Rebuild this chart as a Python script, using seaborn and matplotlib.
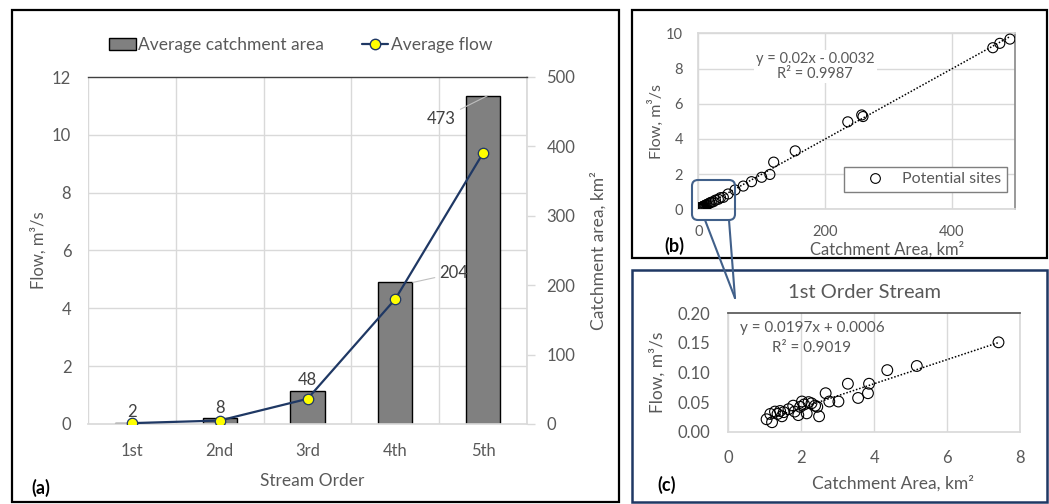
import numpy as np
import matplotlib
matplotlib.use("Agg")
import matplotlib.pyplot as plt
import seaborn as sns
from matplotlib.patches import Rectangle, FancyBboxPatch, Patch
from matplotlib.lines import Line2D
from matplotlib.ticker import FixedLocator, FormatStrFormatter
from matplotlib.transforms import IdentityTransform

# ---------------- data ----------------
stream_orders = ["1st", "2nd", "3rd", "4th", "5th"]
avg_area = [2, 8, 48, 204, 473]            # km2
avg_flow = [0.03, 0.12, 0.87, 4.32, 9.37]  # m3/s

# 1st-order stream sites (panel c)
first_area = [1.05, 1.15, 1.20, 1.28, 1.35, 1.42, 1.47, 1.52, 1.65, 1.78, 1.82,
              1.92, 1.97, 2.02, 2.08, 2.15, 2.20, 2.28, 2.38, 2.44, 2.49, 2.67,
              2.77, 3.02, 3.28, 3.56, 3.83, 3.86, 4.36, 5.17, 7.41]
first_flow = [0.021, 0.030, 0.016, 0.034, 0.030, 0.035, 0.026, 0.033, 0.038, 0.044,
              0.034, 0.028, 0.042, 0.051, 0.046, 0.031, 0.050, 0.048, 0.044, 0.042,
              0.026, 0.065, 0.051, 0.051, 0.081, 0.057, 0.065, 0.081, 0.104, 0.111,
              0.151]

# other potential sites (higher orders, panel b)
other_area = [2.8, 3.5, 4.2, 5.0, 5.8, 6.6, 7.5, 8.3, 9.5, 10.8, 12.0, 13.5, 15.8,
              18.0, 20.5, 23.7, 27.0, 31.6, 35.0, 39.5, 47, 58, 71, 84, 100, 113,
              119, 153, 236, 258, 260, 465, 476, 492]
other_flow = [0.05, 0.07, 0.09, 0.10, 0.12, 0.13, 0.15, 0.17, 0.19, 0.22, 0.24,
              0.27, 0.31, 0.36, 0.40, 0.43, 0.52, 0.57, 0.66, 0.68, 0.87, 1.10,
              1.32, 1.57, 1.82, 1.98, 2.68, 3.32, 4.97, 5.36, 5.27, 9.18, 9.43, 9.67]

eq_all = ["y = 0.02x - 0.0032", "R\u00b2 = 0.9987"]
eq_first = ["y = 0.0197x + 0.0006", "R\u00b2 = 0.9019"]

all_area = first_area + other_area
all_flow = first_flow + other_flow

# ---------------- style ----------------
sns.set_theme(style="white")
plt.rcParams["font.family"] = ["Lato", "DejaVu Sans"]
TXT = "#595959"
GRID = "#D9D9D9"
NAVY = "#1F3864"

W, H = 1049, 504
fig = plt.figure(figsize=(W / 100, H / 100), dpi=100)


def rect(l, t, r, b):
    return [l / W, 1 - b / H, (r - l) / W, (b - t) / H]


# ================= panel (a) =================
ax_area = fig.add_axes(rect(88, 77, 527, 424))
ax_flow = fig.add_axes(rect(88, 77, 527, 424))
ax_flow.set_zorder(ax_area.get_zorder() + 1)
ax_flow.patch.set_visible(False)

sns.barplot(x=stream_orders, y=avg_area, ax=ax_area, color="#808080",
            edgecolor="black", linewidth=1.0, width=0.39, saturation=1)
sns.pointplot(x=stream_orders, y=avg_flow, ax=ax_flow, color=NAVY,
              errorbar=None, markers="o", linestyles="-",
              linewidth=1.6, markersize=7.5, markeredgewidth=0.9,
              markerfacecolor="#FFFF00", markeredgecolor=NAVY)
for ln in ax_flow.lines:
    ln.set_markerfacecolor("#FFFF00")
    ln.set_markeredgecolor(NAVY)

for a in (ax_area, ax_flow):
    a.set_xlim(-0.5, 4.5)
    a.set_xlabel("")
    a.set_ylabel("")

ax_area.set_ylim(0, 500)
ax_area.set_yticks(np.arange(0, 501, 100))
ax_flow.set_ylim(0, 12)
ax_flow.set_yticks(np.arange(0, 13, 2))

ax_area.yaxis.tick_right()
ax_area.yaxis.set_label_position("right")
ax_area.yaxis.set_minor_locator(FixedLocator([v * 500 / 12 for v in range(2, 12, 2)]))
ax_area.xaxis.set_minor_locator(FixedLocator(np.arange(-0.5, 5, 1.0)))
ax_area.set_axisbelow(True)
ax_area.grid(which="minor", axis="both", color=GRID, lw=1.0)
ax_area.grid(which="major", visible=False)
ax_area.tick_params(axis="x", which="major", length=0, pad=14, labelsize=12, labelcolor=TXT)
ax_area.tick_params(axis="x", which="minor", length=6, width=1, color=GRID, direction="out")
ax_area.tick_params(axis="y", which="major", right=True, length=6, width=1, color=GRID,
                    direction="out", pad=8, labelsize=12, labelcolor=TXT)
ax_area.tick_params(axis="y", which="minor", length=0)
ax_area.spines["left"].set_visible(False)
ax_area.spines["bottom"].set_color(GRID)
ax_area.spines["right"].set_color(GRID)
ax_area.spines["top"].set_color("#404040")
ax_area.spines["top"].set_linewidth(1.0)

ax_flow.tick_params(axis="x", which="both", length=0, labelbottom=False)
ax_flow.tick_params(axis="y", length=0, pad=12, labelsize=12, labelcolor=TXT)
for s in ax_flow.spines.values():
    s.set_visible(False)

ax_area.set_ylabel("Catchment area, km\u00b2", fontsize=12.5, color=TXT, rotation=90)
ax_area.yaxis.set_label_coords(1.145, 0.5)
ax_flow.set_ylabel("Flow, m\u00b3/s", fontsize=12, color=TXT)
ax_flow.yaxis.set_label_coords(-0.095, 0.5)
ax_area.set_xlabel("Stream Order", fontsize=12.5, color=TXT)
ax_area.xaxis.set_label_coords(0.51, -0.14)

# data labels
small_labels = [str(v) if v < 100 else "" for v in avg_area]
ax_area.bar_label(ax_area.containers[0], labels=small_labels, padding=2,
                  fontsize=12, color="#404040")
lead = dict(arrowstyle="-", color="#BFBFBF", lw=0.8, shrinkA=1, shrinkB=0)
ax_area.annotate(str(avg_area[3]), xy=(3.2, avg_area[3]), xytext=(41, 9),
                 textcoords="offset pixels", ha="center", va="center",
                 fontsize=12, color="#404040", arrowprops=lead)
ax_area.annotate(str(avg_area[4]), xy=(4.05, avg_area[4]), xytext=(-46, -23),
                 textcoords="offset pixels", ha="center", va="center",
                 fontsize=12, color="#404040", arrowprops=lead)

leg_handles = [Patch(facecolor="#808080", edgecolor="black", lw=1.0),
               Line2D([], [], color=NAVY, lw=1.6, marker="o", markersize=7.5,
                      markerfacecolor="#FFFF00", markeredgecolor=NAVY)]
ax_flow.legend(leg_handles, ["Average catchment area", "Average flow"],
               loc="center", bbox_to_anchor=(0.485, 1.092), ncol=2, frameon=False,
               fontsize=12.5, handlelength=1.5, handletextpad=0.15,
               columnspacing=2.2, labelcolor=TXT)

# ================= panel (b) =================
ax_b = fig.add_axes(rect(698.3, 33.3, 1015, 209.3))
sns.regplot(x=all_area, y=all_flow, ax=ax_b, scatter=False, ci=None, truncate=True,
            color="black", line_kws=dict(ls=(0, (1, 1.2)), lw=1.1))
sns.scatterplot(x=all_area, y=all_flow, ax=ax_b, s=52, facecolors="none",
                edgecolor="black", linewidth=0.8, zorder=3)
ax_b.collections[-1].set_facecolor("none")
ax_b.set_xlim(0, 500)
ax_b.set_ylim(0, 10)
ax_b.set_xticks([0, 200, 400])
ax_b.set_yticks(np.arange(0, 11, 2))
ax_b.grid(True, color=GRID, lw=1.0)
ax_b.set_axisbelow(True)
ax_b.tick_params(length=0, labelsize=10.5, labelcolor=TXT, pad=11)
for s in ("left", "top", "bottom"):
    ax_b.spines[s].set_color(GRID)
ax_b.spines["right"].set_color("#8C8C8C")
ax_b.set_xlabel("Catchment Area, km\u00b2", fontsize=12, color=TXT)
ax_b.xaxis.set_label_coords(0.596, -0.18)
ax_b.set_ylabel("Flow, m\u00b3/s", fontsize=11.5, color=TXT)
ax_b.yaxis.set_label_coords(-0.11, 0.5)
ax_b.text(0.369, 0.81, eq_all[0] + "\n" + eq_all[1], transform=ax_b.transAxes,
          ha="center", va="center", multialignment="center", linespacing=1.05,
          fontsize=10.5, color=TXT,
          bbox=dict(facecolor="white", edgecolor="none", pad=1.5))
ax_b.legend([Line2D([], [], ls="", marker="o", markersize=7, markerfacecolor="none",
                    markeredgecolor="black", markeredgewidth=0.8)],
            ["Potential sites"], loc="lower right", bbox_to_anchor=(0.975, 0.098),
            borderaxespad=0, fancybox=False, edgecolor="#7F7F7F", framealpha=1,
            fontsize=11.5, labelcolor=TXT, handlelength=3.2, handletextpad=0.1,
            borderpad=0.35)

# ================= panel (c) =================
ax_c = fig.add_axes(rect(728.3, 313.3, 1020, 431.7))
sns.regplot(x=first_area, y=first_flow, ax=ax_c, scatter=False, ci=None, truncate=True,
            color="black", line_kws=dict(ls=(0, (1, 1.2)), lw=1.1))
sns.scatterplot(x=first_area, y=first_flow, ax=ax_c, s=60, facecolors="none",
                edgecolor="black", linewidth=0.8, zorder=3)
ax_c.collections[-1].set_facecolor("none")
ax_c.set_xlim(0, 8)
ax_c.set_ylim(0, 0.2)
ax_c.set_xticks(np.arange(0, 9, 2))
ax_c.set_yticks(np.arange(0, 0.201, 0.05))
ax_c.yaxis.set_major_formatter(FormatStrFormatter("%.2f"))
ax_c.grid(True, axis="x", color=GRID, lw=1.0)
ax_c.set_axisbelow(True)
ax_c.tick_params(length=0, labelsize=12, labelcolor=TXT)
ax_c.tick_params(axis="y", pad=13)
ax_c.tick_params(axis="x", pad=13)
for s in ("left", "right", "bottom"):
    ax_c.spines[s].set_color(GRID)
ax_c.spines["top"].set_color("#595959")
ax_c.set_xlabel("Catchment Area, km\u00b2", fontsize=12.5, color=TXT)
ax_c.xaxis.set_label_coords(0.565, -0.37)
ax_c.set_ylabel("Flow, m\u00b3/s", fontsize=12.5, color=TXT)
ax_c.yaxis.set_label_coords(-0.215, 0.5)
ax_c.text(0.287, 0.873, eq_first[0], transform=ax_c.transAxes, ha="center", va="center",
          fontsize=11, color=TXT)
ax_c.text(0.287, 0.704, eq_first[1], transform=ax_c.transAxes, ha="center", va="center",
          fontsize=11, color=TXT)
fig.text(865 / W, 1 - 292 / H, "1st Order Stream", ha="center", va="center",
         fontsize=14.5, color=TXT)

# ================= frames, labels, callout =================
def frame(l, t, r, b, color, lw):
    p = Rectangle((l, H - b), r - l, b - t, transform=IdentityTransform(),
                  fill=False, edgecolor=color, lw=lw, zorder=10)
    fig.add_artist(p)


frame(12, 10, 619, 502, "black", 1.6)
frame(632, 10, 1047, 258, "black", 1.6)
frame(632, 270, 1047, 502, NAVY, 1.8)

CAL = "#41608A"
fig.add_artist(FancyBboxPatch((692, H - 220), 43, 40,
                              boxstyle="round,pad=0,rounding_size=6",
                              transform=IdentityTransform(), fill=False,
                              edgecolor=CAL, lw=1.5, zorder=11))
fig.add_artist(Line2D([705, 735], [H - 220, H - 298], transform=IdentityTransform(),
                      color=CAL, lw=1.5, zorder=11))
fig.add_artist(Line2D([729, 735], [H - 220, H - 298], transform=IdentityTransform(),
                      color=CAL, lw=1.5, zorder=11))

fig.text(41 / W, 1 - 488 / H, "(a)", ha="center", va="center", fontsize=13,
         fontweight="bold", color="black")
fig.text(674 / W, 1 - 246 / H, "(b)", ha="center", va="center", fontsize=13,
         fontweight="bold", color="black")
fig.text(667 / W, 1 - 485 / H, "(c)", ha="center", va="center", fontsize=13,
         fontweight="bold", color="black")

fig.savefig("out.png", dpi=100)
